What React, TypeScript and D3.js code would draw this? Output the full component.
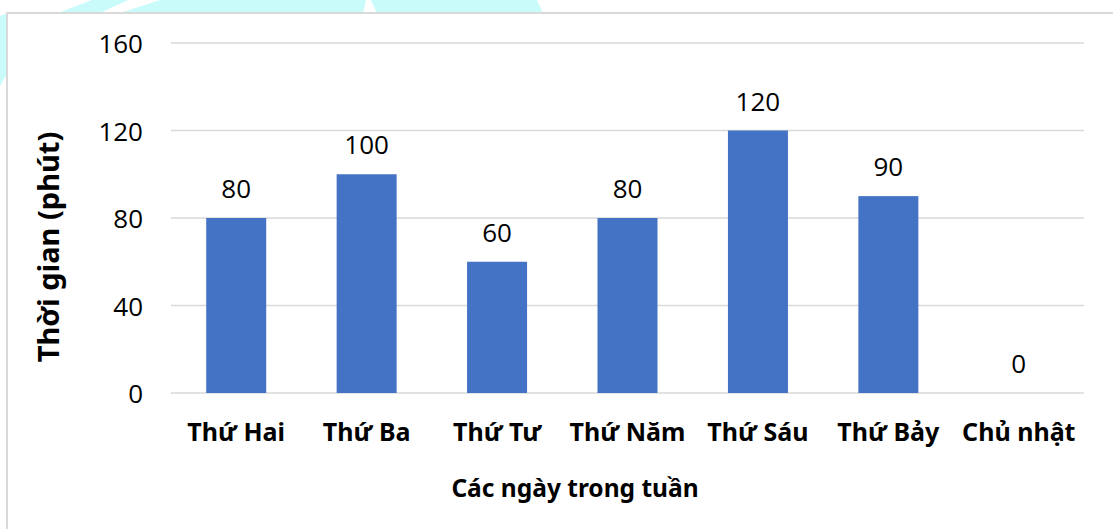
import * as d3 from "d3";

const days = ["Thứ Hai", "Thứ Ba", "Thứ Tư", "Thứ Năm", "Thứ Sáu", "Thứ Bảy", "Chủ nhật"];
const minutes = [80, 100, 60, 80, 120, 90, 0];
const yTicks = [0, 40, 80, 120, 160];

const W = 1113;
const H = 529;
const plot = { left: 171, right: 1084, top: 43, bottom: 393 };

// faded watermark pieces behind the frame
const cyanShapes: [number, number][][] = [
  [[0, 16], [7, 13], [7, 74], [0, 86]],
  [[58, 13], [92, 0], [128, 0], [100, 13]],
  [[120, 13], [160, 0], [366, 0], [363, 13]],
  [[377, 13], [371, 0], [537, 0], [543, 13]],
];

export default function App() {
  const x = d3
    .scaleBand<string>()
    .domain(days)
    .range([plot.left, plot.right])
    .paddingInner(0.54)
    .paddingOuter(0.27);
  const y = d3.scaleLinear().domain([0, 160]).range([plot.bottom, plot.top]);
  const line = d3.line();
  const numFont = "'Open Sans', sans-serif";
  const boldFont = "'Noto Sans', sans-serif";

  return (
    <svg width={W} height={H} style={{ position: "absolute", left: 0, top: 0 }}>
      <rect width={W} height={H} fill="#fff" />
      {cyanShapes.map((s, i) => (
        <path key={i} d={line(s) + "Z"} fill="#c9fbfb" />
      ))}
      <rect x={7} y={13} width={W + 20} height={H + 20} fill="#fff" stroke="#d9d9d9" strokeWidth={2} />

      {yTicks.map((t) => (
        <g key={t}>
          <line x1={plot.left} x2={plot.right} y1={y(t)} y2={y(t)} stroke="#d9d9d9" strokeWidth={1.5} />
          <text x={143} y={y(t)} textAnchor="end" dominantBaseline="central" fontFamily={numFont} fontSize={26} fill="#000">
            {t}
          </text>
        </g>
      ))}

      {days.map((d, i) => (
        <g key={d}>
          <rect x={x(d)} y={y(minutes[i])} width={x.bandwidth()} height={y(0) - y(minutes[i])} fill="#4472c4" />
          <text
            x={(x(d) ?? 0) + x.bandwidth() / 2}
            y={y(minutes[i]) - 30}
            textAnchor="middle"
            dominantBaseline="central"
            fontFamily={numFont}
            fontSize={26}
            fill="#000"
          >
            {minutes[i]}
          </text>
          <text
            x={(x(d) ?? 0) + x.bandwidth() / 2}
            y={431}
            textAnchor="middle"
            dominantBaseline="central"
            fontFamily={boldFont}
            fontWeight={700}
            fontSize={25}
            fill="#000"
          >
            {d}
          </text>
        </g>
      ))}

      <text x={575} y={487} textAnchor="middle" dominantBaseline="central" fontFamily={boldFont} fontWeight={700} fontSize={24.5} fill="#000">
        Các ngày trong tuần
      </text>
      <text
        transform="translate(47,247) rotate(-90)"
        textAnchor="middle"
        dominantBaseline="central"
        fontFamily={boldFont}
        fontWeight={700}
        fontSize={29}
        fill="#000"
      >
        Thời gian (phút)
      </text>
    </svg>
  );
}
